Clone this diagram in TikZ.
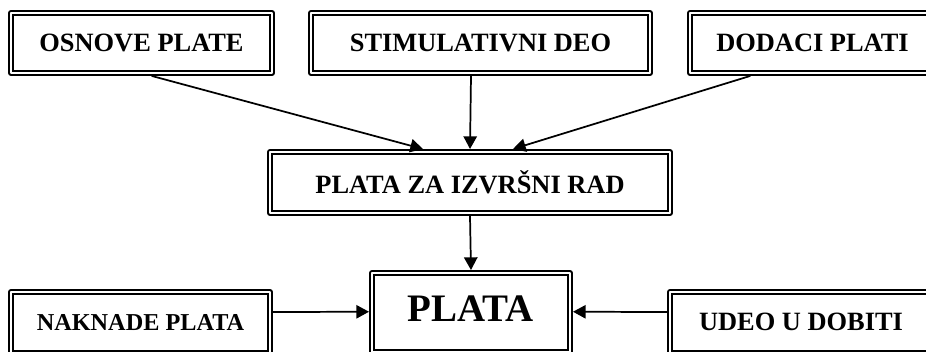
\documentclass[tikz,border=0pt]{standalone}
\usepackage{fontspec}
\setmainfont{Liberation Serif}
\usetikzlibrary{arrows.meta}

\tikzset{
	okvir/.style={draw=black,line width=1.5pt,double=white,double distance=1.5pt,
		outer sep=2.25pt,inner sep=0pt,font=\bfseries\fontsize{19.8}{24}\selectfont},
	veza/.style={->,line width=1.3pt}
}

\begin{document}
\begin{tikzpicture}
			[line cap=round,line join=round,>={Triangle[length=9.5pt,width=10pt]},x=0.75pt,y=-0.75pt]
			\useasboundingbox (0,0) rectangle (926,351);
			\clip (0,0) rectangle (926,351);
			% gornji red
			\node[okvir,minimum width=195.75pt,minimum height=45pt] (osnove) at (141.5,43) {OSNOVE PLATE};
			\node[okvir,minimum width=254.25pt,minimum height=45pt] (stimul) at (480.5,43) {STIMULATIVNI DEO};
			\node[okvir,minimum width=183.75pt,minimum height=45pt] (dodaci) at (812.5,43) {DODACI PLATI};
			% sredina
			\node[okvir,minimum width=300pt,minimum height=45.75pt] (izvrsni) at (470,182.5) {PLATA ZA IZVRŠNI RAD};
			% donji red
			\node[okvir,minimum width=148.5pt,minimum height=59.6pt,font=\bfseries\fontsize{29.2}{34}\selectfont] (plata) at (471,312.75) {\raisebox{6pt}{PLATA}};
			\node[okvir,minimum width=194.25pt,minimum height=45.4pt,font=\bfseries\fontsize{18.2}{22}\selectfont] (naknade) at (140.5,322.25) {NAKNADE PLATA};
			\node[okvir,minimum width=196.5pt,minimum height=45.4pt] (udeo) at (801,322.25) {UDEO U DOBITI};
			% strelice
			\draw[veza] ([shift={(10.5,0)}]osnove.south) -- ([shift={(-47,0)}]izvrsni.north);
			\draw[veza] ([shift={(-9.5,0)}]stimul.south) -- (izvrsni.north);
			\draw[veza] ([shift={(-62.5,0)}]dodaci.south) -- ([shift={(43,0)}]izvrsni.north);
			\draw[veza] (izvrsni.south) -- (plata.north);
			\draw[veza] ([shift={(0,-10.25)}]naknade.east) -- ([shift={(0,-1)}]plata.west);
			\draw[veza] ([shift={(0,-10.25)}]udeo.west) -- ([shift={(0,-1)}]plata.east);
		\end{tikzpicture}
\end{document}
